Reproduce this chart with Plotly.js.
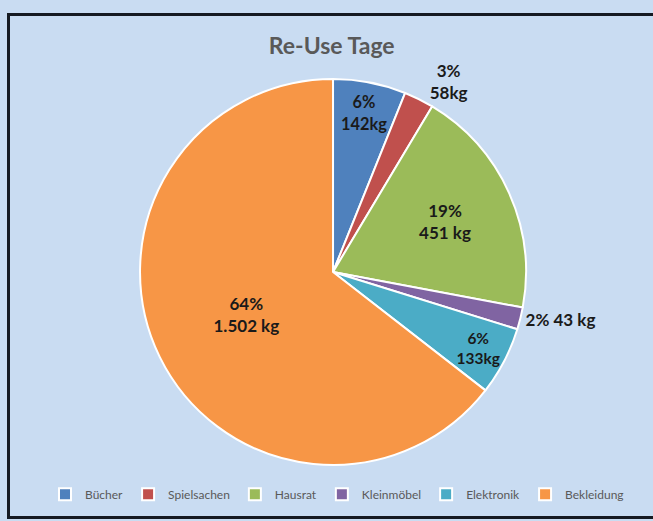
<!DOCTYPE html>
<html><head><meta charset="utf-8">
<script src="https://cdn.plot.ly/plotly-3.0.1.min.js"></script>
<style>
html,body{margin:0;padding:0;background:#c9dcf2;}
#wrap{position:relative;width:653px;height:521px;overflow:hidden;}
#chart{width:653px;height:521px;}
#frame{position:absolute;left:7px;top:13px;width:680px;height:500px;border:3px solid #151a22;pointer-events:none;}
</style></head>
<body>
<div id="wrap"><div id="chart"></div><div id="frame"></div></div>
<script>
const categories = ["Bücher","Spielsachen","Hausrat","Kleinmöbel","Elektronik","Bekleidung"];
const valuesKg = [142, 58, 451, 43, 133, 1502];
const pctLabels = ["6%","3%","19%","2%","6%","64%"];
const kgLabels = ["142kg","58kg","451 kg","43 kg","133kg","1.502 kg"];
const colors = ["#4f81bd","#c0504d","#9bbb59","#8064a2","#4bacc6","#f79646"];

const texts = categories.map((c,i)=> i===3 ? pctLabels[i]+" "+kgLabels[i] : pctLabels[i]+"<br>"+kgLabels[i]);
const positions = ["inside","outside","inside","outside","inside","inside"];

const trace = {
  type:"pie",
  labels:categories,
  values:valuesKg,
  text:texts,
  textinfo:"text",
  hoverinfo:"label+value+percent",
  sort:false,
  direction:"clockwise",
  rotation:0,
  textposition:positions,
  insidetextorientation:"horizontal",
  marker:{colors:colors, line:{color:"#ffffff", width:2}},
  textfont:{family:"Lato, sans-serif", size:17, color:"#1a1a1a", weight:"bold"},
  insidetextfont:{family:"Lato, sans-serif", size:17, color:"#1a1a1a", weight:"bold"},
  outsidetextfont:{family:"Lato, sans-serif", size:17, color:"#1a1a1a", weight:"bold"},
  domain:{x:[0.2054,0.8152], y:[0.1065,1]}
};

const layout = {
  width:653, height:521,
  paper_bgcolor:"#c9dcf2",
  plot_bgcolor:"#c9dcf2",
  margin:{l:10, r:10, t:79, b:10},
  title:{text:"<b>Re-Use Tage</b>", x:0.508, xanchor:"center", y:0.912, yanchor:"middle",
         font:{family:"Lato, sans-serif", size:23, color:"#595959"}},
  showlegend:true,
  legend:{orientation:"h", x:0.5166, xanchor:"center", y:0.039, yanchor:"middle",
          font:{family:"Lato, sans-serif", size:12, color:"#595959"},
          itemwidth:30, bgcolor:"rgba(0,0,0,0)"}
};

Plotly.newPlot("chart",[trace],layout,{displayModeBar:false, staticPlot:true});
</script>
</body></html>
